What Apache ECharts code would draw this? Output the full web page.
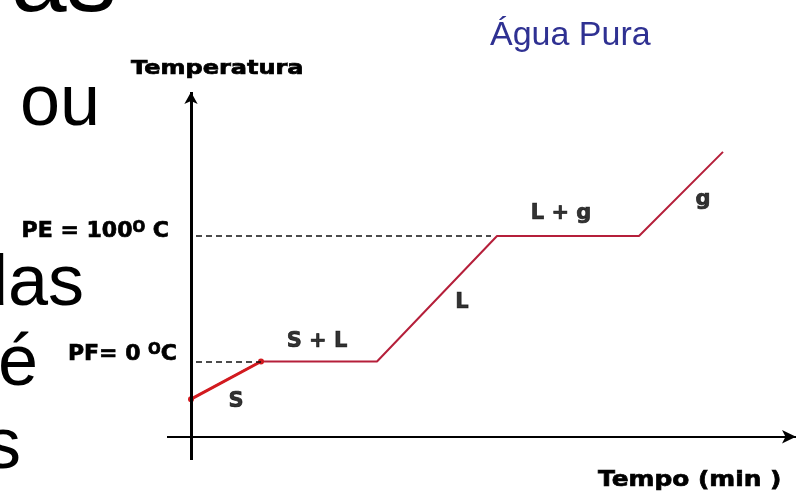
<!DOCTYPE html>
<html>
<head>
<meta charset="utf-8">
<script src="https://cdn.jsdelivr.net/npm/echarts@6/dist/echarts.min.js"></script>
<style>
  html, body { margin: 0; padding: 0; background: #fff; }
  #chart { width: 796px; height: 497px; }
</style>
</head>
<body>
<div id="chart"></div>
<script>
// curva de aquecimento da água
const tempo = [0, 3.5, 9.3, 15.3, 22.4, 26.6]
const temperatura = [-30, 0, 0, 100, 100, 167]
const fases = ['S', 'S + L', 'L', 'L + g', 'g']
const pontoFusao = 0
const pontoEbulicao = 100
const faixaTempo = [-1.2, 30.25]
const faixaTemp = [-78.5, 214.7]
const nivelEixoTempo = -60

const fonteGrafico = 'DejaVu Sans'
const fonteSlide = 'Liberation Sans'

const pontos = tempo.map((t, i) => [t, temperatura[i]])
const offsets = [[10, 21], [-2, -20], [25, 4], [-7, -22], [22, 6]]
const meios = fases.map((f, i) => ({
  name: f,
  value: [(tempo[i] + tempo[i + 1]) / 2, (temperatura[i] + temperatura[i + 1]) / 2],
  label: { offset: offsets[i] }
}))

const chart = echarts.init(document.getElementById('chart'))

// negrito mais pesado, como na figura original
const base = { fontFamily: fonteGrafico, fontWeight: 'bold', color: '#000', textBorderColor: '#000', textBorderWidth: 0.7 }
const richPE = {
  a: Object.assign({ fontSize: 22, lineHeight: 30, verticalAlign: 'top' }, base),
  o: Object.assign({ fontSize: 15, lineHeight: 12, verticalAlign: 'top' }, base)
}
const richPF = {
  a: Object.assign({ fontSize: 22, lineHeight: 30, verticalAlign: 'top' }, base),
  o: Object.assign({ fontSize: 15, lineHeight: 28, verticalAlign: 'top' }, base),
  c: Object.assign({ fontSize: 22, lineHeight: 40, verticalAlign: 'top' }, base)
}

function texto(t, x, y, size, opts) {
  return {
    type: 'text',
    x: x,
    y: y,
    style: Object.assign({
      text: t,
      fontFamily: fonteSlide,
      fontSize: size,
      fill: '#000',
      align: 'left',
      verticalAlign: 'middle'
    }, opts || {})
  }
}

chart.setOption({
  animation: false,
  backgroundColor: '#fff',
  grid: { left: 167, right: 0, top: 92, bottom: 37 },
  xAxis: { type: 'value', min: faixaTempo[0], max: faixaTempo[1], show: false },
  yAxis: { type: 'value', min: faixaTemp[0], max: faixaTemp[1], show: false },
  graphic: [
    texto('as', 11, -17, 100),
    texto('ou', 20, 105, 72),
    texto('das', 84, 285, 72, { align: 'right' }),
    texto('é', 38, 365, 72, { align: 'right' }),
    texto('s', 21, 448, 72, { align: 'right' }),
    texto('Água Pura', 490, 36, 34, { fill: '#2f3192' }),
    {
      type: 'text', x: 131, y: 69, scaleX: 1.2,
      style: { text: 'Temperatura', fontFamily: fonteGrafico, fontWeight: 'bold', fontSize: 20, fill: '#000', stroke: '#000', lineWidth: 0.7, verticalAlign: 'middle' }
    },
    {
      type: 'text', x: 598, y: 480, scaleX: 1.13,
      style: { text: 'Tempo (min )', fontFamily: fonteGrafico, fontWeight: 'bold', fontSize: 22, fill: '#000', stroke: '#000', lineWidth: 0.7, verticalAlign: 'middle' }
    }
  ],
  series: [
    {
      type: 'line',
      data: pontos,
      symbol: 'none',
      lineStyle: { color: '#b51f3a', width: 2 },
      z: 3,
      markLine: {
        silent: true,
        symbol: ['none', 'none'],
        label: { show: false },
        data: [
          [
            { coord: [faixaTempo[0], nivelEixoTempo], lineStyle: { color: '#000', width: 2, type: 'solid' } },
            { coord: [faixaTempo[1], nivelEixoTempo], symbol: 'arrow', symbolSize: [10, 14] }
          ],
          [
            { coord: [0, faixaTemp[0]], lineStyle: { color: '#000', width: 3, type: 'solid' } },
            { coord: [0, faixaTemp[1]], symbol: 'arrow', symbolSize: [10, 12] }
          ],
          [
            {
              coord: [0.25, pontoEbulicao],
              lineStyle: { color: '#111', width: 1.5, type: [6, 4] },
              label: {
                show: true, position: 'start', distance: 27, padding: [0, 0, 1, 0],
                formatter: '{a|PE = 100}{o|O}{a| C}', rich: richPE
              }
            },
            { coord: [tempo[3] - 0.3, pontoEbulicao] }
          ],
          [
            {
              coord: [0.25, pontoFusao],
              lineStyle: { color: '#111', width: 1.5, type: [6, 4] },
              label: {
                show: true, position: 'start', distance: 19, padding: [3, 0, 0, 0],
                formatter: '{a|PF= 0 }{o|O}{c|C}', rich: richPF
              }
            },
            { coord: [tempo[1], pontoFusao] }
          ]
        ]
      }
    },
    {
      type: 'line',
      data: pontos.slice(0, 2),
      symbol: 'circle',
      symbolSize: 6,
      itemStyle: { color: '#d21a1f' },
      lineStyle: { color: '#d21a1f', width: 3 },
      z: 4
    },
    {
      type: 'scatter',
      data: meios,
      symbolSize: 0,
      silent: true,
      label: Object.assign({
        show: true,
        position: 'inside',
        formatter: '{b}',
        fontSize: 21
      }, base)
    }
  ]
})
</script>
</body>
</html>
